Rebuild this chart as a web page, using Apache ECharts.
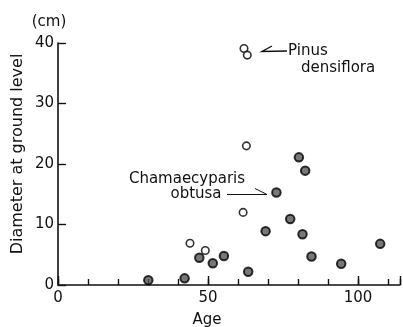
<!DOCTYPE html>
<html>
<head>
<meta charset="utf-8">
<script src="https://cdn.jsdelivr.net/npm/echarts@6/dist/echarts.min.js"></script>
<style>
html,body{margin:0;padding:0;background:#fff;}
#chart{width:403px;height:327px;}
</style>
</head>
<body>
<div id="chart"></div>
<script>
// Pinus densiflora (open circles)
var pinusAge = [62.0, 63.1, 62.8, 61.7, 44.0, 49.1];
var pinusDiam = [39.1, 38.0, 23.0, 12.0, 6.9, 5.7];
// Chamaecyparis obtusa (filled circles)
var chamAge = [30.1, 42.2, 47.1, 51.6, 55.3, 63.4, 69.2, 72.8, 77.4, 80.3, 82.4, 81.5, 84.5, 94.4, 107.4];
var chamDiam = [0.8, 1.1, 4.5, 3.6, 4.8, 2.2, 8.9, 15.3, 10.9, 21.1, 18.9, 8.4, 4.7, 3.5, 6.8];
var xLabels = [0, 50, 100];
var yLabels = [0, 10, 20, 30, 40];

function zip(a, b) { return a.map(function (v, i) { return [v, b[i]]; }); }

var FONT = 'DejaVu Sans';
var INK = '#111';
var FS = 15;

var chart = echarts.init(document.getElementById('chart'), null, {renderer: 'canvas'});
chart.setOption({
  animation: false,
  backgroundColor: '#fff',
  grid: {left: 58, right: 0, top: 43, bottom: 42, containLabel: false},
  xAxis: [{
    type: 'value', min: 0, max: 114, interval: 10, position: 'bottom',
    axisLine: {show: true, lineStyle: {color: INK, width: 1.6}},
    axisTick: {show: true, inside: true, length: 6, lineStyle: {color: INK, width: 1.4}},
    axisLabel: {
      show: true, margin: 6, color: INK, fontFamily: FONT, fontSize: FS,
      formatter: function (v) { return xLabels.indexOf(v) >= 0 ? String(v) : ''; }
    },
    splitLine: {show: false}
  }, {
    type: 'value', min: 0, max: 114, interval: 50, position: 'bottom',
    axisLine: {show: false},
    axisTick: {show: true, inside: true, length: 9, lineStyle: {color: INK, width: 1.4}},
    axisLabel: {show: false},
    splitLine: {show: false}
  }],
  yAxis: {
    type: 'value', min: 0, max: 40, interval: 10,
    axisLine: {show: true, lineStyle: {color: INK, width: 1.6}},
    axisTick: {show: true, inside: true, length: 8, lineStyle: {color: INK, width: 1.4}},
    axisLabel: {
      show: true, margin: 4, color: INK, fontFamily: FONT, fontSize: FS,
      formatter: function (v) { return yLabels.indexOf(v) >= 0 ? String(v) : ''; }
    },
    splitLine: {show: false}
  },
  series: [{
    name: 'Chamaecyparis obtusa', type: 'scatter', xAxisIndex: 0,
    data: zip(chamAge, chamDiam), symbol: 'circle', symbolSize: 8.5,
    itemStyle: {color: '#555', borderColor: '#000', borderWidth: 2}
  }, {
    name: 'Pinus densiflora', type: 'scatter', xAxisIndex: 0,
    data: zip(pinusAge, pinusDiam), symbol: 'circle', symbolSize: 7.5,
    itemStyle: {color: '#fff', borderColor: '#000', borderWidth: 1.6}
  }],
  graphic: [
    {type: 'text', x: 49, y: 22,
      style: {text: '(cm)', font: FS + 'px ' + FONT, fill: INK, align: 'center', verticalAlign: 'middle'}},
    {type: 'text', x: 18, y: 154, rotation: Math.PI / 2,
      style: {text: 'Diameter at ground level', font: '16px ' + FONT, fill: INK, align: 'center', verticalAlign: 'middle'}},
    {type: 'text', x: 207, y: 320,
      style: {text: 'Age', font: FS + 'px ' + FONT, fill: INK, align: 'center', verticalAlign: 'middle'}},
    {type: 'text', x: 288, y: 51,
      style: {text: 'Pinus', font: FS + 'px ' + FONT, fill: INK, align: 'left', verticalAlign: 'middle'}},
    {type: 'text', x: 301, y: 68,
      style: {text: 'densiflora', font: FS + 'px ' + FONT, fill: INK, align: 'left', verticalAlign: 'middle'}},
    {type: 'polyline', shape: {points: [[272, 46], [262, 51.5], [287, 51]]},
      style: {stroke: INK, lineWidth: 1.4, fill: null}},
    {type: 'text', x: 187, y: 179,
      style: {text: 'Chamaecyparis', font: FS + 'px ' + FONT, fill: INK, align: 'center', verticalAlign: 'middle'}},
    {type: 'text', x: 196, y: 194,
      style: {text: 'obtusa', font: FS + 'px ' + FONT, fill: INK, align: 'center', verticalAlign: 'middle'}},
    {type: 'line', shape: {x1: 227, y1: 194.5, x2: 267, y2: 194.5},
      style: {stroke: INK, lineWidth: 1}},
    {type: 'line', shape: {x1: 255, y1: 188.5, x2: 267, y2: 194.5},
      style: {stroke: INK, lineWidth: 1}}
  ]
});
</script>
</body>
</html>
